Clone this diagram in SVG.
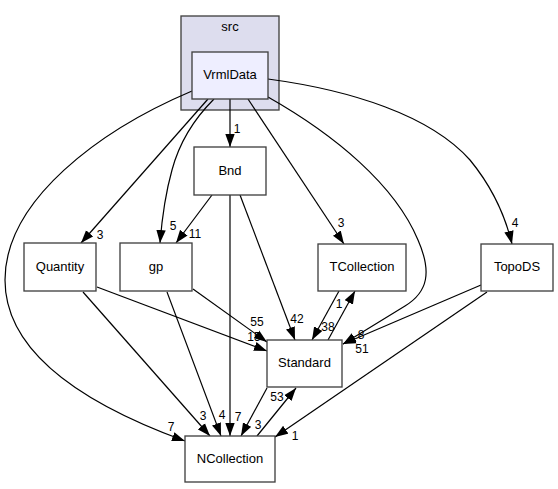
<svg xmlns="http://www.w3.org/2000/svg" width="558" height="489" viewBox="0 0 558 489">
<defs>
<style>
.n rect{fill:#fff;stroke:#404040;stroke-width:1.33}
text{font-family:"Liberation Sans",Arial,sans-serif;font-size:13px;fill:#000}
.t{text-anchor:middle}
.e path{fill:none;stroke:#000;stroke-width:1.2;marker-end:url(#a)}
.l text{text-anchor:middle;font-size:12px}
</style>
<marker id="a" markerUnits="userSpaceOnUse" markerWidth="13" markerHeight="10" refX="13" refY="5" orient="auto" viewBox="0 0 13 10">
<path d="M0,0.3 L13,5 L0,9.7 z" fill="#000"/>
</marker>
</defs>
<rect width="558" height="489" fill="#fff"/>
<g id="cluster_src">
<rect x="181" y="16" width="98" height="94" fill="#ddddee" stroke="#404040" stroke-width="1.33"/>
<text class="t" x="230" y="31">src</text>
</g>
<g class="e" id="edges">
<path d="M230,99 L230,147"/>
<path d="M208,99 L81,243"/>
<path d="M214,99 C195,118 180,140 172,170 C165,195 162,218 160,243"/>
<path d="M248,99 L344,244"/>
<path d="M268,79 C350,90 430,115 470,160 C493,188 505,215 512,244"/>
<path d="M268,97 C335,135 395,185 418,240 C432,272 428,292 405,306 L343,344"/>
<path d="M192,91 C100,130 5,200 5,280 C5,360 100,410 185,441"/>
<path d="M212,195 L176,243"/>
<path d="M240,195 L295,340"/>
<path d="M230,195 L230,436"/>
<path d="M97,287 L267,351"/>
<path d="M83,292 L210,436"/>
<path d="M167,292 L221,436"/>
<path d="M193,289 L267,342"/>
<path d="M339,291 L312,340"/>
<path d="M328,340 L355,291"/>
<path d="M267,388 L241,436"/>
<path d="M257,436 L296,388"/>
<path d="M481,285 L343,344"/>
<path d="M487,292 L275,437"/>
</g>
<g class="l" id="labels">
<text x="237" y="133">1</text>
<text x="100" y="239">3</text>
<text x="173" y="230">5</text>
<text x="341" y="227">3</text>
<text x="515" y="227">4</text>
<text x="361" y="339">8</text>
<text x="171" y="431">7</text>
<text x="195" y="238">11</text>
<text x="297" y="323">42</text>
<text x="238" y="421">7</text>
<text x="254" y="341">15</text>
<text x="203" y="420">3</text>
<text x="222" y="419">4</text>
<text x="257" y="326">55</text>
<text x="328" y="331">38</text>
<text x="339" y="308">1</text>
<text x="258" y="429">3</text>
<text x="277" y="401">53</text>
<text x="362" y="353">51</text>
<text x="295" y="440">1</text>
</g>
<g class="n" id="VrmlData"><rect x="192" y="52" width="76" height="47" style="fill:#eeeeff"/><text class="t" x="230" y="79">VrmlData</text></g>
<g class="n" id="Bnd"><rect x="194" y="147" width="72" height="48"/><text class="t" x="230" y="175">Bnd</text></g>
<g class="n" id="Quantity"><rect x="24" y="243" width="72" height="48"/><text class="t" x="60" y="271">Quantity</text></g>
<g class="n" id="gp"><rect x="120" y="243" width="72" height="48"/><text class="t" x="156" y="271">gp</text></g>
<g class="n" id="TCollection"><rect x="318" y="244" width="88" height="47"/><text class="t" x="362" y="271">TCollection</text></g>
<g class="n" id="TopoDS"><rect x="481" y="244" width="72" height="47"/><text class="t" x="517" y="271">TopoDS</text></g>
<g class="n" id="Standard"><rect x="267" y="340" width="75" height="47"/><text class="t" x="304.5" y="367">Standard</text></g>
<g class="n" id="NCollection"><rect x="185" y="436" width="90" height="46"/><text class="t" x="230" y="463">NCollection</text></g>
</svg>
